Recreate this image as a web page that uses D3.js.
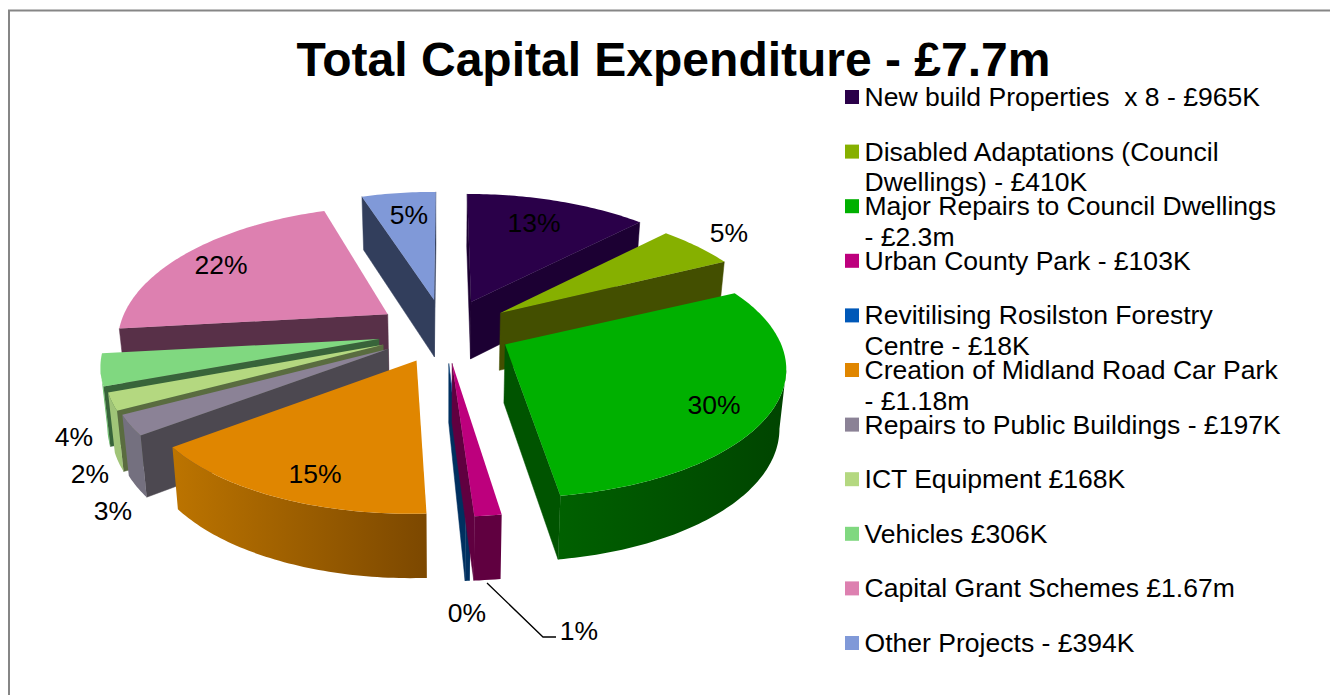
<!DOCTYPE html>
<html><head><meta charset="utf-8">
<script src="https://cdn.jsdelivr.net/npm/d3@7"></script>
<style>html,body{margin:0;padding:0;background:#fff;overflow:hidden}svg{display:block}text{font-family:"Liberation Sans",Arial,sans-serif;fill:#000;white-space:pre}</style>
</head><body><svg id="c" width="1330" height="695"></svg>
<script>
const chartTitle = "Total Capital Expenditure - £7.7m";
const legendLines = [
  ["New build Properties  x 8 - £965K"],
  ["Disabled Adaptations (Council", "Dwellings) - £410K"],
  ["Major Repairs to Council Dwellings", "- £2.3m"],
  ["Urban County Park - £103K"],
  ["Revitilising Rosilston Forestry", "Centre - £18K"],
  ["Creation of Midland Road Car Park", "- £1.18m"],
  ["Repairs to Public Buildings - £197K"],
  ["ICT Equipment £168K"],
  ["Vehicles £306K"],
  ["Capital Grant Schemes £1.67m"],
  ["Other Projects - £394K"]
];
const values = [965, 410, 2300, 103, 18, 1180, 197, 168, 306, 1670, 394];
const topColors  = ["#2A0049","#86B000","#00B000","#BD007D","#0058B8","#E08600","#8B8296","#B4D880","#80D880","#DD80B0","#8099D8"];
const wallColors = ["#1C0033","#434F00","#005400","#600040","#003060","#7C4800","#4C4850","#5A6C40","#38643A","#583048","#323E5C"];
const rimLeft    = ["#1C0033","#434F00","#006000","#600040","#003060","#BC7400","#74707F","#A0C478","#70C070","#583048","#323E5C"];
const rimRight   = ["#1C0033","#434F00","#004400","#600040","#003060","#7C4800","#74707F","#A0C478","#70C070","#583048","#323E5C"];
const labelX = [534, 729, 714, 579, 467, 315, 113, 90, 74, 221, 409];
const labelY = [222, 232, 404, 630, 612, 473, 510, 473, 436, 264, 214];
const drawOrder = [10, 0, 1, 2, 9, 8, 7, 6, 5, 4, 3];
const sliceWidth = [1, 1, 1.015, 1, 1, 1, 1, 1, 1, 0.97, 1];
const sliceLean  = [0, 0, 6, 0, 0, 0, 0, 0, 0, 0, 0];
const apexNudgeY = [0, 0, -2, 0, 0, 0, 0, 0, 0, 0, 0];

const svg = d3.select("#c");
const defs = svg.append("defs");

// Frame
svg.append("path").attr("d", "M9,696V10.5H1331").attr("fill", "none").attr("stroke", "#868686").attr("stroke-width", 2);

svg.append("text").attr("x", 673.5).attr("y", 76).attr("text-anchor", "middle")
  .attr("font-size", 48).attr("font-weight", "bold").text(chartTitle);

// Projection constants
const cx = 445, cy = 331.5, ex = 68, ey = 32;   // centre and explosion offsets
const a = 272, b = 126.7, p = 0.173;            // perspective
const pie = d3.pie().sort(null).startAngle(0).endAngle(2 * Math.PI);
const arcs = pie(values);
const total = d3.sum(values);
const pct = d3.format(".0%");

const line = d3.line();
function depth(y) { return 58 + 0.035 * (y - cy); }
function down(pt) { return [pt[0] + (cx - pt[0]) * 0.02, pt[1] + depth(pt[1])]; }

arcs.forEach((d, i) => {
  const mid = (d.startAngle + d.endAngle) / 2;
  const ox = ex * Math.sin(mid);
  const ay = cy - ey * Math.cos(mid) + apexNudgeY[i];
  const apex = [cx + ox, ay];
  const proj = (t, r = 1) => {
    const X = r * Math.sin(t), Y = r * Math.cos(t), q = 1 + p * Y;
    return [cx + (ox + a * sliceWidth[i] * X) / q + sliceLean[i] * Y, ay - b * Y / q];
  };
  const ax = apex[0];
  const n = Math.max(2, Math.ceil((d.endAngle - d.startAngle) / (Math.PI / 180)));
  const angles = d3.range(n + 1).map(k => d.startAngle + (d.endAngle - d.startAngle) * k / n);
  const rim = angles.map(t => proj(t));
  const g = svg.append("g");
  const midPt = proj(mid, 0.5);

  // Radial walls
  [d.startAngle, d.endAngle].forEach(t => {
    const P = proj(t);
    const ux = P[0] - ax, uy = P[1] - ay;
    const side = ux * (midPt[1] - ay) - uy * (midPt[0] - ax);
    if (side * ux < 0) {
      g.append("path").attr("d", line([apex, P, down(P), down(apex)]) + "Z")
        .attr("fill", wallColors[i]).attr("stroke", wallColors[i]).attr("stroke-width", 0.5);
    }
  });

  // Outer wall (near half of the rim)
  const vis = [];
  for (let k = 0; k < rim.length; k++) {
    const nx = k < rim.length - 1 ? rim[k + 1][0] - rim[k][0] : rim[k][0] - rim[k - 1][0];
    if (nx < 0) vis.push(rim[k]);
  }
  if (vis.length > 1) {
    const id = "rim" + i;
    const xs = d3.extent(vis, v => v[0]);
    const gr = defs.append("linearGradient").attr("id", id).attr("gradientUnits", "userSpaceOnUse")
      .attr("x1", xs[0]).attr("x2", xs[1]).attr("y1", 0).attr("y2", 0);
    gr.append("stop").attr("offset", 0).attr("stop-color", rimLeft[i]);
    gr.append("stop").attr("offset", 1).attr("stop-color", rimRight[i]);
    const poly = vis.concat(vis.map(down).reverse());
    g.append("path").attr("d", line(poly) + "Z").attr("fill", `url(#${id})`);
  }
  d.g = g;
  g.append("path").attr("d", line([apex].concat(rim)) + "Z").attr("fill", topColors[i]);
});

// Painter's order
drawOrder.forEach(i => arcs[i].g.raise());

// Leader line
svg.append("path").attr("d", "M487,583L543,637H556").attr("fill", "none").attr("stroke", "#000").attr("stroke-width", 1.3);

// Percent labels
svg.append("g").selectAll("text").data(values).join("text")
  .attr("x", (d, i) => labelX[i]).attr("y", (d, i) => labelY[i]).attr("dy", "0.36em")
  .attr("text-anchor", "middle").attr("font-size", 26.5)
  .text(d => pct(d / total));

// Legend
const legendY = d3.scaleLinear().domain([0, legendLines.length - 1]).range([97, 643]);
const lg = svg.append("g").selectAll("g").data(legendLines).join("g")
  .attr("transform", (d, i) => `translate(845,${legendY(i)})`);
lg.append("rect").attr("x", 0).attr("y", -7).attr("width", 14).attr("height", 14).attr("fill", (d, i) => topColors[i]);
lg.selectAll("text").data(d => d).join("text")
  .attr("x", 19.5).attr("y", (d, j) => 9 + j * 30.5)
  .attr("font-size", 26.55).text(d => d);
</script></body></html>
